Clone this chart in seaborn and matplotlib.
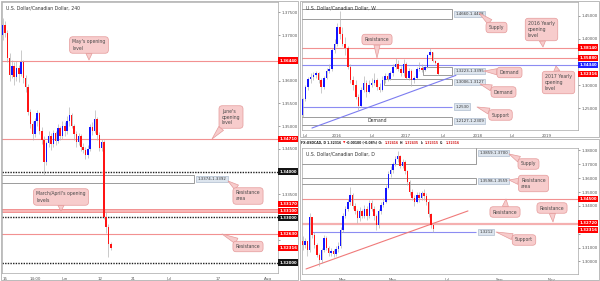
import numpy as np
import pandas as pd
import matplotlib
matplotlib.use("Agg")
import matplotlib.pyplot as plt
import seaborn as sns
from matplotlib.patches import Rectangle
from matplotlib.offsetbox import TextArea, HPacker, AnnotationBbox

sns.set_theme(style="white")
plt.rcParams["font.family"] = ["DejaVu Sans"]

W, H = 600, 281
RED = "#ff1414"
BLUE = "#1414ff"
WICK = "#b5b5b5"
PINK_LINE = "#f29191"
BLUE_LINE = "#8c8cf2"
TAG_RED = "#ff0000"
TAG_BLUE = "#2020ff"
TAG_BLACK = "#141414"
CALL_FC = "#f7cccc"
CALL_EC = "#e59a9a"
ZONE_FC = "#dde5ee"
ZONE_EC = "#9fb0c4"
GRAY_TXT = "#555555"

# ---------------- 240 (4h) panel data : x = trading days since 15 May ----------------
h4_first_open = 1.3700
h4_close = [1.3722, 1.3705, 1.3650, 1.3612, 1.3632, 1.3608, 1.3628, 1.3615, 1.3640, 1.3605,
            1.3585, 1.3530, 1.3505, 1.3482, 1.3510, 1.3528, 1.3490, 1.3470, 1.3420, 1.3462,
            1.3478, 1.3460, 1.3485, 1.3468, 1.3495, 1.3478, 1.3500, 1.3488, 1.3510, 1.3525,
            1.3500, 1.3482, 1.3465, 1.3478, 1.3455, 1.3448, 1.3436, 1.3450, 1.3498, 1.3490,
            1.3515, 1.3480, 1.3452, 1.3465, 1.3300, 1.3278, 1.3240, 1.32316]
h4_high = [1.3738, 1.3730, 1.3712, 1.3660, 1.3645, 1.3640, 1.3642, 1.3635, 1.3667, 1.3645,
           1.3612, 1.3592, 1.3538, 1.3512, 1.3518, 1.3536, 1.3530, 1.3498, 1.3478, 1.3468,
           1.3490, 1.3485, 1.3492, 1.3490, 1.3505, 1.3500, 1.3512, 1.3508, 1.3522, 1.3542,
           1.3528, 1.3505, 1.3488, 1.3485, 1.3482, 1.3462, 1.3455, 1.3458, 1.3505, 1.3508,
           1.3535, 1.3520, 1.3486, 1.3472, 1.3470, 1.3312, 1.3285, 1.3245]
h4_low = [1.3690, 1.3695, 1.3640, 1.3600, 1.3605, 1.3590, 1.3598, 1.3596, 1.3610, 1.3595,
          1.3575, 1.3525, 1.3495, 1.3470, 1.3475, 1.3500, 1.3482, 1.3460, 1.3393, 1.3415,
          1.3455, 1.3448, 1.3455, 1.3458, 1.3462, 1.3470, 1.3472, 1.3478, 1.3482, 1.3500,
          1.3495, 1.3470, 1.3455, 1.3458, 1.3445, 1.3440, 1.3428, 1.3430, 1.3445, 1.3480,
          1.3485, 1.3470, 1.3445, 1.3445, 1.3295, 1.3265, 1.3212, 1.3228]
h4_tick_pos = [0, 6.5, 13, 20.6, 27.8, 35.6, 46.3, 57.2]
h4_tick_lab = ["15", "14:00", "Jun", "12", "21", "Jul", "17", "Aug"]
h4_yticks = [1.320, 1.325, 1.330, 1.335, 1.340, 1.345, 1.350, 1.355, 1.360, 1.365, 1.370, 1.375]
h4_red_levels = [1.36440, 1.34710, 1.32630]
h4_band_levels = [1.33170, 1.33100]
h4_psych_levels = [1.34000, 1.33000, 1.32000]
h4_zone = (1.3374, 1.3392)
h4_zone_end = 41.1

# ---------------- Weekly panel data : x = weeks since early July 2015 (2-week candles) ----
wk_first_open = 1.2350
wk_close = [1.2700, 1.2950, 1.3130, 1.3180, 1.3220, 1.3250, 1.3100, 1.2950, 1.3150, 1.3300,
            1.3350, 1.3750, 1.3900, 1.4250, 1.4100, 1.3900, 1.3800, 1.3400, 1.3100, 1.3000,
            1.2750, 1.2550, 1.2900, 1.3050, 1.2850, 1.3000, 1.3050, 1.3100, 1.2950, 1.2900,
            1.3100, 1.3200, 1.3120, 1.3250, 1.3400, 1.3450, 1.3350, 1.3250, 1.3450, 1.3150,
            1.3300, 1.3100, 1.3150, 1.3350, 1.3380, 1.3330, 1.3400, 1.3650, 1.3720, 1.3520,
            1.3480, 1.32316]
wk_high = [1.2720, 1.3000, 1.3180, 1.3250, 1.3280, 1.3300, 1.3290, 1.3150, 1.3200, 1.3380,
           1.3450, 1.3800, 1.4000, 1.4350, 1.4600, 1.4250, 1.4050, 1.3850, 1.3450, 1.3200,
           1.3100, 1.2800, 1.2950, 1.3200, 1.3100, 1.3100, 1.3150, 1.3250, 1.3150, 1.3050,
           1.3200, 1.3250, 1.3250, 1.3300, 1.3450, 1.3580, 1.3550, 1.3420, 1.3560, 1.3500,
           1.3380, 1.3350, 1.3200, 1.3400, 1.3500, 1.3450, 1.3420, 1.3680, 1.3795, 1.3720,
           1.3550, 1.3490]
wk_low = [1.2300, 1.2650, 1.2900, 1.3050, 1.3100, 1.3150, 1.3050, 1.2830, 1.2920, 1.3120,
          1.3250, 1.3300, 1.3700, 1.3850, 1.4000, 1.3850, 1.3650, 1.3350, 1.3050, 1.2900,
          1.2700, 1.2460, 1.2520, 1.2850, 1.2750, 1.2830, 1.2950, 1.3000, 1.2900, 1.2850,
          1.2880, 1.3050, 1.3080, 1.3100, 1.3200, 1.3350, 1.3300, 1.3200, 1.3200, 1.3120,
          1.3100, 1.2970, 1.3050, 1.3120, 1.3300, 1.3280, 1.3300, 1.3380, 1.3640, 1.3500,
          1.3450, 1.3222]
wk_tick_pos = [2.3, 26.4, 52.8, 78.4, 106.3, 132.6, 158.3, 184.6]
wk_tick_lab = ["Jul", "2016", "Jul", "2017", "Jul", "2018", "Jul", "2019"]
wk_yticks = [1.25, 1.30, 1.35, 1.40, 1.45]
wk_red_levels = [1.38140, 1.35880]
wk_blue_level = 1.34340
wk_support = 1.2530
wk_zones = [(1.4428, 1.4660, 0.0, "1.4660-1.4428"),
            (1.3223, 1.3395, 91.2, "1.3223-1.3395"),
            (1.3006, 1.3127, 61.8, "1.3006-1.3127"),
            (1.2127, 1.2309, 0.0, "1.2127-1.2309")]
wk_zone_end = 113.0
wk_trend_x = [7.5, 116.0]
wk_trend_y = [1.2065, 1.3210]

# ---------------- Daily panel data : x = trading days since mid-Jan 2017 (2-day candles) --
d_first_open = 1.3150
d_close = [1.3120, 1.3145, 1.3080, 1.3320, 1.3190, 1.3120, 1.3050, 1.3010, 1.3080, 1.3170,
           1.3100, 1.3060, 1.3075, 1.3055, 1.3090, 1.3110, 1.3230, 1.3330, 1.3380, 1.3430,
           1.3480, 1.3400, 1.3360, 1.3310, 1.3360, 1.3330, 1.3380, 1.3330, 1.3420, 1.3380,
           1.3330, 1.3260, 1.3360, 1.3410, 1.3430, 1.3530, 1.3630, 1.3660, 1.3700, 1.3740,
           1.3760, 1.3690, 1.3720, 1.3650, 1.3570, 1.3500, 1.3460, 1.3430, 1.3480, 1.3455,
           1.3490, 1.3470, 1.3430, 1.3340, 1.3260, 1.32316]
d_high = [1.3180, 1.3170, 1.3150, 1.3350, 1.3320, 1.3210, 1.3130, 1.3060, 1.3100, 1.3190,
          1.3180, 1.3110, 1.3100, 1.3090, 1.3110, 1.3140, 1.3250, 1.3350, 1.3400, 1.3450,
          1.3535, 1.3490, 1.3420, 1.3380, 1.3390, 1.3380, 1.3410, 1.3400, 1.3440, 1.3440,
          1.3400, 1.3340, 1.3380, 1.3430, 1.3460, 1.3550, 1.3650, 1.3690, 1.3720, 1.3760,
          1.3795, 1.3770, 1.3740, 1.3730, 1.3660, 1.3590, 1.3520, 1.3480, 1.3500, 1.3500,
          1.3510, 1.3520, 1.3490, 1.3440, 1.3350, 1.3270]
d_low = [1.3080, 1.3100, 1.3040, 1.3070, 1.3170, 1.3100, 1.3030, 1.2970, 1.2990, 1.3070,
         1.3080, 1.3040, 1.3040, 1.3030, 1.3040, 1.3070, 1.3100, 1.3210, 1.3310, 1.3360,
         1.3410, 1.3380, 1.3340, 1.3280, 1.3290, 1.3310, 1.3310, 1.3300, 1.3310, 1.3360,
         1.3300, 1.3225, 1.3240, 1.3340, 1.3390, 1.3420, 1.3520, 1.3610, 1.3640, 1.3690,
         1.3720, 1.3670, 1.3670, 1.3630, 1.3550, 1.3480, 1.3440, 1.3400, 1.3420, 1.3430,
         1.3440, 1.3440, 1.3410, 1.3320, 1.3240, 1.3212]
d_tick_pos = [33.6, 76.5, 121.8, 166.4, 210.1]
d_tick_lab = ["Mar", "May", "Jul", "Sep", "Nov"]
d_yticks = [1.30, 1.31, 1.32, 1.33, 1.34, 1.35, 1.36, 1.37, 1.38]
d_red_level = 1.34500
d_band_level = 1.32720
d_support = 1.3212
d_support_start = 8.4
d_zones = [(1.3700, 1.3859, "1.3859-1.3700"), (1.3559, 1.3598, "1.3598-1.3559")]
d_zone_end = 146.2
d_trend_x = [3.4, 139.5]
d_trend_y = [1.2946, 1.3364]

last_price = 1.32316


def make_df(first_open, close, high, low, start, step):
    opens = [first_open] + close[:-1]
    n = len(close)
    return pd.DataFrame({"x": start + step * np.arange(n), "open": opens,
                         "high": high, "low": low, "close": close})


def fig_rect(x0, y0, x1, y1):
    return [x0 / W, 1 - y1 / H, (x1 - x0) / W, (y1 - y0) / H]


def draw_candles(ax, df, width, min_body):
    ax.vlines(df["x"], df["low"], df["high"], color=WICK, lw=0.5, zorder=3)
    body = df["close"] - df["open"]
    body = np.where(np.abs(body) < min_body, np.where(body >= 0, min_body, -min_body), body)
    up = (df["close"] >= df["open"]).values
    for mask, col in ((up, BLUE), (~up, RED)):
        ax.bar(df["x"][mask], body[mask], bottom=df["open"][mask], width=width,
               color=col, lw=0, zorder=4)


def setup(ax, xlim, ylim, yticks, xticks, xlabels, tag_prices):
    ax.set_xlim(*xlim)
    ax.set_ylim(*ylim)
    ax.yaxis.tick_right()
    ax.set_yticks(yticks)
    # a tick label that sits behind a price tag on the scale is hidden, as on the chart
    px_per_unit = ax.get_position().height * H / (ylim[1] - ylim[0])
    labels = []
    for v in yticks:
        covered = any(abs(v - p) * px_per_unit < 6.5 for p in tag_prices)
        labels.append("" if covered else f"{v:.5f}")
    ax.set_yticklabels(labels)
    ax.set_xticks(xticks)
    ax.set_xticklabels(xlabels)
    ax.tick_params(axis="both", labelsize=2.9, colors=GRAY_TXT, length=1.5, width=0.4, pad=1.2)
    for s in ax.spines.values():
        s.set_color("#a6a6a6")
        s.set_linewidth(0.5)
    ax.set_facecolor("white")
    ax.grid(False)


def tag(ax, price, fc, dy=0.0):
    ax.annotate(f"{price:.5f}", xy=(1, price), xycoords=("axes fraction", "data"),
                xytext=(1.0, dy), textcoords="offset points", ha="left", va="center",
                fontsize=2.8, fontweight="bold", color="white", zorder=10,
                annotation_clip=False,
                bbox=dict(boxstyle="square,pad=0.28", fc=fc, ec="none"))


def title(ax, text, dy_px=6):
    ax.annotate(text, xy=(0, 1), xycoords="axes fraction", xytext=(3.5, -dy_px),
                textcoords="offset pixels", ha="left", va="center", fontsize=3.3,
                color="#333333", zorder=10)


def callout(ax, text, box_c, tip):
    ax.annotate(text, xy=(tip[0], H - tip[1]), xycoords="figure pixels",
                xytext=(box_c[0], H - box_c[1]), textcoords="figure pixels",
                ha="center", va="center", multialignment="left", linespacing=1.25,
                fontsize=3.3, color="#4a4a4a", zorder=9, annotation_clip=False,
                bbox=dict(boxstyle="round,pad=0.6,rounding_size=0.7", fc=CALL_FC, ec=CALL_EC, lw=0.5),
                arrowprops=dict(arrowstyle="wedge,tail_width=1.1,shrink_factor=0.5",
                                mutation_scale=4, fc=CALL_FC, ec=CALL_EC, lw=0.5,
                                shrinkA=0, shrinkB=0))


def zone_label(ax, x, y, text):
    ax.annotate(text, xy=(x, y), xytext=(2.5, 0), textcoords="offset points",
                ha="left", va="center", fontsize=2.8, color="#333333", zorder=7,
                annotation_clip=False,
                bbox=dict(boxstyle="square,pad=0.3", fc=ZONE_FC, ec=ZONE_EC, lw=0.4))


fig = plt.figure(figsize=(W / 100, H / 100), dpi=100)
fig.patch.set_facecolor("white")

# outer panel frames
for (x0, y0, x1, y1) in [(1, 1, 298, 280), (300, 1, 599, 137), (300, 139, 599, 280)]:
    fig.add_artist(Rectangle((x0 / W, 1 - y1 / H), (x1 - x0) / W, (y1 - y0) / H,
                             transform=fig.transFigure, fill=False, ec="#b0b0b0", lw=0.6))

# ======================= LEFT: 240 =======================
h4_tags = [(1.36440, TAG_RED, 0), (1.34710, TAG_RED, 0), (1.34000, TAG_BLACK, 0),
           (1.33170, TAG_RED, 3.6), (1.33100, TAG_RED, 1.0), (1.33000, TAG_BLACK, -0.5),
           (1.32630, TAG_RED, 0), (last_price, TAG_RED, 0), (1.32000, TAG_BLACK, 0)]
axL = fig.add_axes(fig_rect(2, 2, 278, 273))
dfL = make_df(h4_first_open, h4_close, h4_high, h4_low, -0.5, 0.5)
setup(axL, (-0.652, 59.35), (1.31770, 1.37726), h4_yticks, h4_tick_pos, h4_tick_lab,
      [p for p, _, _ in h4_tags])

axL.add_patch(Rectangle((-1, h4_zone[0]), h4_zone_end + 1, h4_zone[1] - h4_zone[0],
                        fc="white", ec="#8c8c8c", lw=0.6, zorder=1.5))
zone_label(axL, h4_zone_end, sum(h4_zone) / 2, f"{h4_zone[0]:.4f}-{h4_zone[1]:.4f}")
for lv in h4_red_levels:
    axL.axhline(lv, color=PINK_LINE, lw=0.8, zorder=2)
axL.axhspan(h4_band_levels[1], h4_band_levels[0], color="#f7b7b7", lw=0, zorder=1.8)
for lv in h4_band_levels:
    axL.axhline(lv, color=PINK_LINE, lw=0.7, zorder=2)
for lv in h4_psych_levels:
    axL.axhline(lv, color="#1e1e1e", lw=1.0, ls=(0, (1.0, 0.9)), zorder=2)
draw_candles(axL, dfL, 0.34, 0.00012)
title(axL, "U.S. Dollar/Canadian Dollar, 240")
for p, c, dy in h4_tags:
    tag(axL, p, c, dy)

callout(axL, "May's opening\nlevel", (89, 45), (89, 60))
callout(axL, "June's\nopening\nlevel", (231, 117), (212, 139))
callout(axL, "March/April's opening\nlevels", (61, 197), (61, 211))
callout(axL, "Resistance\narea", (248, 196), (228, 181))
callout(axL, "Resistance", (248, 246.5), (222, 234))

# ======================= TOP RIGHT: Weekly =======================
wk_tags = [(1.38140, TAG_RED, 0), (1.35880, TAG_RED, 0), (wk_blue_level, TAG_BLUE, 0),
           (last_price, TAG_RED, 0)]
axW = fig.add_axes(fig_rect(302, 2, 578, 130))
dfW = make_df(wk_first_open, wk_close, wk_high, wk_low, 0.5, 2.0)
setup(axW, (0, 208), (1.2022, 1.4804), wk_yticks, wk_tick_pos, wk_tick_lab,
      [p for p, _, _ in wk_tags])

for lo, hi, x0, lab in wk_zones:
    x_start = x0 - 1 if x0 == 0 else x0
    axW.add_patch(Rectangle((x_start, lo), wk_zone_end - x_start, hi - lo,
                            fc="white", ec="#8c8c8c", lw=0.6, zorder=1.5))
    zone_label(axW, wk_zone_end, (lo + hi) / 2, lab)
axW.text(56.5, (wk_zones[3][0] + wk_zones[3][1]) / 2, "Demand", fontsize=3.3,
         color="#333333", ha="center", va="center", zorder=6)
axW.hlines(wk_support, -1, wk_zone_end, color=BLUE_LINE, lw=0.8, zorder=2)
zone_label(axW, wk_zone_end, wk_support, f"{wk_support:.4f}")
for lv in wk_red_levels:
    axW.axhline(lv, color=PINK_LINE, lw=0.8, zorder=2)
axW.axhline(wk_blue_level, color=BLUE_LINE, lw=0.8, zorder=2)
sns.lineplot(x=wk_trend_x, y=wk_trend_y, ax=axW, color="#7c7cf0", lw=0.8, zorder=2.5)
draw_candles(axW, dfW, 1.15, 0.0012)
title(axW, "U.S. Dollar/Canadian Dollar, W")
for p, c, dy in wk_tags:
    tag(axW, p, c, dy)

callout(axW, "2016 Yearly\nopening\nlevel", (541.5, 29.5), (543, 47))
callout(axW, "Resistance", (377, 39.5), (377, 58))
callout(axW, "Supply", (496.5, 27.5), (479, 13))
callout(axW, "Demand", (509.5, 72.5), (484, 71))
callout(axW, "Demand", (503.5, 92), (480, 84))
callout(axW, "Support", (500.5, 115), (477, 107))
callout(axW, "2017 Yearly\nopening\nlevel", (558.5, 82.5), (556, 66))

# ======================= BOTTOM RIGHT: Daily =======================
d_tags = [(d_red_level, TAG_RED, 0), (d_band_level, TAG_RED, 0.8), (last_price, TAG_RED, -0.6)]
axD = fig.add_axes(fig_rect(302, 148, 578, 274))
dfD = make_df(d_first_open, d_close, d_high, d_low, 0.5, 2.0)
setup(axD, (0, 232), (1.29097, 1.38174), d_yticks, d_tick_pos, d_tick_lab,
      [p for p, _, _ in d_tags])

for lo, hi, lab in d_zones:
    axD.add_patch(Rectangle((-1, lo), d_zone_end + 1, hi - lo, fc="white", ec="#8c8c8c",
                            lw=0.6, zorder=1.5))
zone_label(axD, d_zone_end, 1.3780, d_zones[0][2])
zone_label(axD, d_zone_end, (d_zones[1][0] + d_zones[1][1]) / 2, d_zones[1][2])
axD.axhline(d_red_level, color=PINK_LINE, lw=0.8, zorder=2)
axD.axhline(d_band_level, color="#f5b0b0", lw=1.6, zorder=2)
axD.hlines(d_support, d_support_start, d_zone_end, color=BLUE_LINE, lw=0.8, zorder=2)
zone_label(axD, d_zone_end, d_support, f"{d_support:.4f}")
sns.lineplot(x=d_trend_x, y=d_trend_y, ax=axD, color="#f07a7a", lw=0.8, zorder=2.5)
draw_candles(axD, dfD, 1.2, 0.0004)
title(axD, "U.S. Dollar/Canadian Dollar, D", dy_px=6)
for p, c, dy in d_tags:
    tag(axD, p, c, dy)

callout(axD, "Supply", (528.5, 164), (509, 154))
callout(axD, "Resistance\narea", (533.5, 183.5), (509, 180))
callout(axD, "Resistance", (505, 212), (506, 199))
callout(axD, "Resistance", (552, 208), (553, 222))
callout(axD, "Support", (524, 240), (496, 232))

# header line above the daily chart
DARK = "#222222"
HRED = "#d42020"
parts = [("FX:USDCAD, D 1.32316", DARK), ("\u25bc", RED), ("-0.00100 (-0.08%) O:", DARK),
         ("1.32416", HRED), ("H:", DARK), ("1.32435", HRED), ("L:", DARK),
         ("1.32315", HRED), ("C:", DARK), ("1.32316", HRED)]
areas = [TextArea(t, textprops=dict(color=c, fontsize=2.25, fontweight="bold")) for t, c in parts]
pack = HPacker(children=areas, align="baseline", pad=0, sep=1.0)
ab = AnnotationBbox(pack, (301, H - 142.5), xycoords="figure pixels", box_alignment=(0, 0.5),
                    frameon=False, pad=0, annotation_clip=False)
fig.add_artist(ab)

for ax in (axL, axW, axD):
    leg = ax.get_legend()
    if leg is not None:
        leg.remove()

fig.savefig("out.png", dpi=100, facecolor="white")
